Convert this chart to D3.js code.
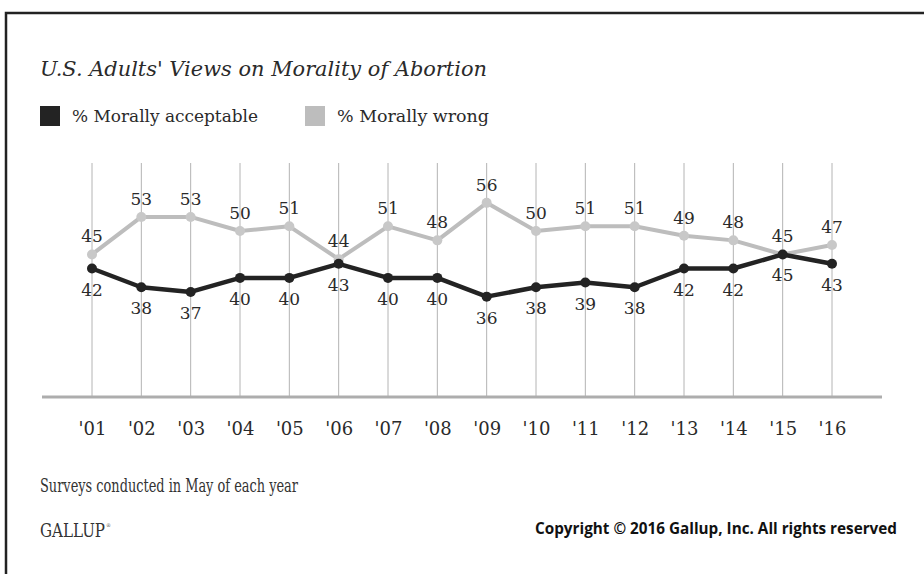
<!DOCTYPE html>
<html>
<head>
<meta charset="utf-8">
<script src="https://cdn.jsdelivr.net/npm/d3@7"></script>
<style>
  body { margin: 0; background: #fff; }
  svg { display: block; }
</style>
</head>
<body>
<div id="chart"></div>
<script>
// survey years and the two series (percent)
var years = ["'01","'02","'03","'04","'05","'06","'07","'08","'09","'10","'11","'12","'13","'14","'15","'16"];
var acceptable = [42, 38, 37, 40, 40, 43, 40, 40, 36, 38, 39, 38, 42, 42, 45, 43];
var wrong = [45, 53, 53, 50, 51, 44, 51, 48, 56, 50, 51, 51, 49, 48, 45, 47];
var seriesNames = ["% Morally acceptable", "% Morally wrong"];

var width = 924,
    height = 574;

var darkColor = "#232323",
    lightColor = "#bdbdbd",
    serif = "'DejaVu Serif', 'Liberation Serif', serif";

var svg = d3.select("#chart")
    .append("svg")
    .attr("width", width)
    .attr("height", height);

svg.append("rect")
    .attr("width", width)
    .attr("height", height)
    .attr("fill", "#fff");

// frame (top + left only, like the cropped original)
svg.append("path")
    .attr("d", "M6,574 V13 H924")
    .attr("fill", "none")
    .attr("stroke", "#222")
    .attr("stroke-width", 2.5);

var x = d3.scalePoint()
    .domain(years)
    .range([92, 832]);

var y = d3.scaleLinear()
    .domain([14.6, 64.5])
    .range([397, 163]);

// vertical grid lines
svg.append("g")
    .selectAll("line")
    .data(years)
    .enter()
    .append("line")
    .attr("x1", function(d) { return x(d); })
    .attr("x2", function(d) { return x(d); })
    .attr("y1", y(64.5))
    .attr("y2", y(14.6))
    .attr("stroke", "#b4b4b4")
    .attr("stroke-width", 1);

// baseline
svg.append("line")
    .attr("x1", 42)
    .attr("x2", 882)
    .attr("y1", y(14.6))
    .attr("y2", y(14.6))
    .attr("stroke", "#adadad")
    .attr("stroke-width", 3);

// x axis labels
var xAxis = d3.axisBottom(x).tickSize(0).tickPadding(0);
var axisG = svg.append("g")
    .attr("transform", "translate(0,435)")
    .call(xAxis);
axisG.select(".domain").remove();
axisG.selectAll("text")
    .attr("dy", 0)
    .style("font-family", serif)
    .style("font-size", "18px")
    .style("fill", "#2a2a2a");

function drawSeries(values, color, lineWidth, r, fill, labelDy) {
    var pts = values.map(function(v, i) { return {year: years[i], value: v}; });
    var line = d3.line()
        .x(function(d) { return x(d.year); })
        .y(function(d) { return y(d.value); });

    var g = svg.append("g");
    g.append("path")
        .datum(pts)
        .attr("d", line)
        .attr("fill", "none")
        .attr("stroke", color)
        .attr("stroke-width", lineWidth)
        .attr("stroke-linejoin", "round");

    g.selectAll("circle")
        .data(pts)
        .enter()
        .append("circle")
        .attr("cx", function(d) { return x(d.year); })
        .attr("cy", function(d) { return y(d.value); })
        .attr("r", r)
        .attr("fill", fill);

    return {g: g, pts: pts, labelDy: labelDy};
}

var wrongS = drawSeries(wrong, lightColor, 4, 5, "#c8c8c8", -12);
var accS = drawSeries(acceptable, darkColor, 4.5, 5, darkColor, 27);

// value labels on top of both lines
[wrongS, accS].forEach(function(s) {
    svg.append("g")
        .selectAll("text")
        .data(s.pts)
        .enter()
        .append("text")
        .attr("x", function(d) { return x(d.year); })
        .attr("y", function(d) { return y(d.value) + s.labelDy; })
        .attr("text-anchor", "middle")
        .style("font-family", serif)
        .style("font-size", "17px")
        .style("fill", "#2a2a2a")
        .text(function(d) { return d.value; });
});

// title
svg.append("text")
    .attr("x", 40)
    .attr("y", 76)
    .attr("textLength", 447)
    .attr("lengthAdjust", "spacingAndGlyphs")
    .style("font-family", serif)
    .style("font-style", "italic")
    .style("font-size", "21px")
    .style("fill", "#2a2a2a")
    .text("U.S. Adults' Views on Morality of Abortion");

// legend
var legend = [
    {name: seriesNames[0], color: darkColor, x: 40, w: 186},
    {name: seriesNames[1], color: lightColor, x: 305, w: 152}
];
var lg = svg.append("g")
    .selectAll("g")
    .data(legend)
    .enter()
    .append("g")
    .attr("transform", function(d) { return "translate(" + d.x + ",106)"; });
lg.append("rect")
    .attr("width", 20)
    .attr("height", 20)
    .attr("fill", function(d) { return d.color; });
lg.append("text")
    .attr("x", 32)
    .attr("y", 16)
    .attr("textLength", function(d) { return d.w; })
    .attr("lengthAdjust", "spacingAndGlyphs")
    .style("font-family", serif)
    .style("font-size", "16px")
    .style("fill", "#2a2a2a")
    .text(function(d) { return d.name; });

// footer
svg.append("text")
    .attr("x", 40)
    .attr("y", 492)
    .attr("textLength", 258)
    .attr("lengthAdjust", "spacingAndGlyphs")
    .style("font-family", serif)
    .style("font-size", "18px")
    .style("fill", "#333")
    .text("Surveys conducted in May of each year");

var gallup = svg.append("text")
    .attr("x", 40)
    .attr("y", 537)
    .style("font-family", serif)
    .style("fill", "#333");
gallup.append("tspan")
    .attr("textLength", 65)
    .attr("lengthAdjust", "spacingAndGlyphs")
    .style("font-size", "18px")
    .text("GALLUP");
gallup.append("tspan")
    .attr("dx", 1)
    .attr("dy", -10)
    .style("font-size", "5px")
    .style("fill", "#555")
    .text("®");

svg.append("text")
    .attr("x", 535)
    .attr("y", 534)
    .attr("textLength", 362)
    .attr("lengthAdjust", "spacingAndGlyphs")
    .style("font-family", "'Open Sans', 'Liberation Sans', sans-serif")
    .style("font-weight", "bold")
    .style("font-size", "16px")
    .style("fill", "#111")
    .text("Copyright © 2016 Gallup, Inc. All rights reserved");
</script>
</body>
</html>
